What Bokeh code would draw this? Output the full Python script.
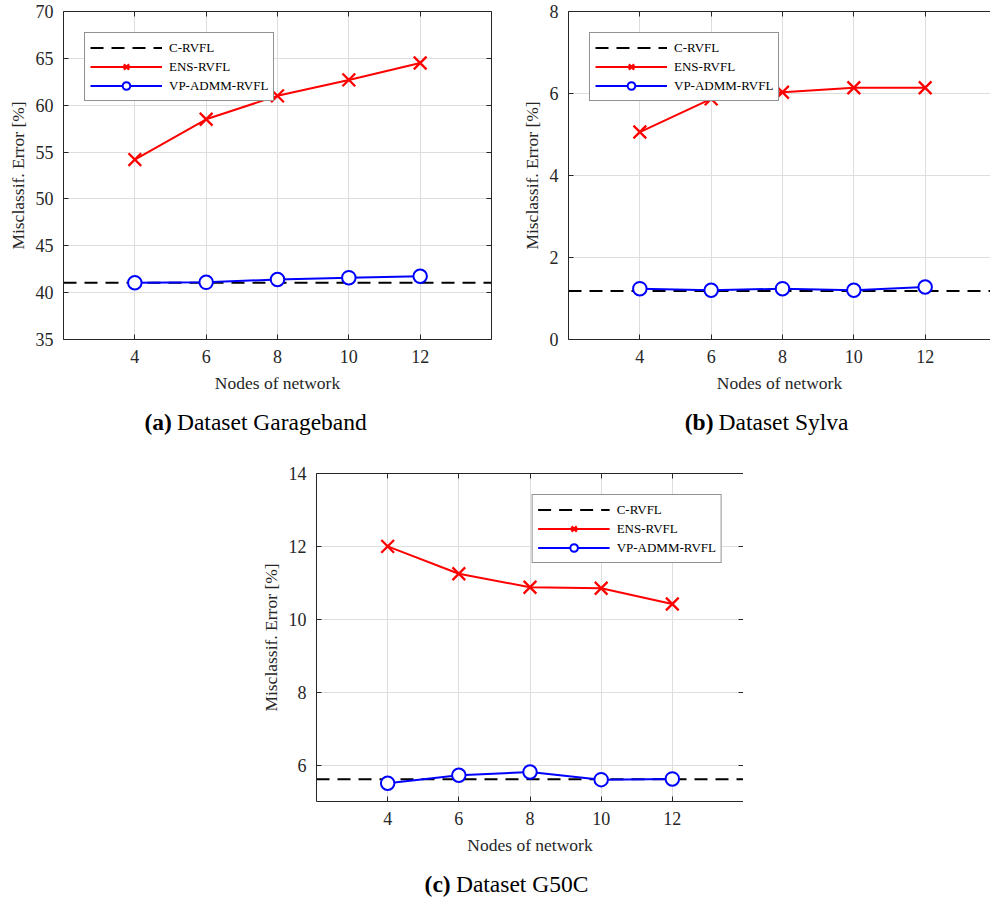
from bokeh.plotting import figure
from bokeh.models import Range1d, FixedTicker, LinearAxis, Legend, LegendItem, Label, Spacer
from bokeh.layouts import column, row
from bokeh.embed import file_html
from bokeh.resources import INLINE

# ---------------- data ----------------
nodes = [4, 6, 8, 10, 12]
x_ticks = [4, 6, 8, 10, 12]

# (a) Garageband
ens_a = [54.2, 58.5, 61.0, 62.7, 64.5]
vp_a = [41.05, 41.1, 41.4, 41.6, 41.75]
c_a = 41.05
yticks_a = [35, 40, 45, 50, 55, 60, 65, 70]

# (b) Sylva
ens_b = [5.06, 5.87, 6.03, 6.14, 6.14]
vp_b = [1.24, 1.20, 1.24, 1.20, 1.28]
c_b = 1.18
yticks_b = [0, 2, 4, 6, 8]

# (c) G50C
ens_c = [12.0, 11.25, 10.88, 10.85, 10.42]
vp_c = [5.50, 5.72, 5.81, 5.60, 5.62]
c_c = 5.61
yticks_c = [6, 8, 10, 12, 14]

series_names = ["C-RVFL", "ENS-RVFL", "VP-ADMM-RVFL"]
x_label = "Nodes of network"
y_label = "Misclassif. Error [%]"
captions = [("(a)", "Dataset Garageband"), ("(b)", "Dataset Sylva"), ("(c)", "Dataset G50C")]

FONT = "Liberation Serif"
AX = "#262626"
GRID = "#dedede"


def style_axis(ax):
    ax.axis_line_color = AX
    ax.major_tick_line_color = AX
    ax.major_tick_in = 5
    ax.major_tick_out = 0
    ax.minor_tick_line_color = None


def panel(ens, vp, c_val, xlim, ylim, yticks, width, height, bl, br, bt, bb,
          legend_loc, right_axis):
    p = figure(width=width, height=height, x_range=Range1d(*xlim), y_range=Range1d(*ylim),
               output_backend="svg", toolbar_location=None,
               min_border_left=bl, min_border_right=br, min_border_top=bt, min_border_bottom=bb)
    p.outline_line_color = None
    p.background_fill_color = "white"
    p.border_fill_color = "white"

    xa = p.xaxis[0]
    ya = p.yaxis[0]
    xa.ticker = FixedTicker(ticks=x_ticks)
    ya.ticker = FixedTicker(ticks=yticks)
    for ax in (xa, ya):
        style_axis(ax)
        ax.major_label_text_font = FONT
        ax.major_label_text_font_size = "18px"
        ax.major_label_text_color = AX
        ax.axis_label_text_font = FONT
        ax.axis_label_text_font_size = "17.5px"
        ax.axis_label_text_font_style = "normal"
        ax.axis_label_text_color = AX
        ax.major_label_standoff = 10
    xa.axis_label_standoff = 7
    ya.axis_label_standoff = 5
    xa.axis_label = x_label
    ya.axis_label = y_label

    # MATLAB-style box with inward ticks on the other sides
    top = LinearAxis(ticker=FixedTicker(ticks=x_ticks),
                     major_label_overrides={t: "" for t in x_ticks})
    extra = [(top, "above")]
    if right_axis:
        rt = LinearAxis(ticker=FixedTicker(ticks=yticks),
                        major_label_overrides={t: "" for t in yticks})
        extra.append((rt, "right"))
    for ax, side in extra:
        style_axis(ax)
        ax.major_label_standoff = 0
        ax.major_label_text_font_size = "1px"
        p.add_layout(ax, side)

    p.xgrid.ticker = FixedTicker(ticks=x_ticks)
    p.ygrid.ticker = FixedTicker(ticks=yticks)
    p.xgrid.grid_line_color = GRID
    p.ygrid.grid_line_color = GRID

    r_c = p.line([xlim[0], xlim[1]], [c_val, c_val], line_color="black", line_width=2,
                 line_dash="13 8")
    r_el = p.line(nodes, ens, line_color="red", line_width=2)
    r_es = p.scatter(nodes, ens, marker="x", size=18, line_color="red", line_width=2.3)
    r_vl = p.line(nodes, vp, line_color="blue", line_width=2)
    r_vs = p.scatter(nodes, vp, marker="circle", size=13.5, line_color="blue",
                     fill_color="white", line_width=2)

    legend = Legend(items=[LegendItem(label=series_names[0], renderers=[r_c]),
                           LegendItem(label=series_names[1], renderers=[r_el, r_es]),
                           LegendItem(label=series_names[2], renderers=[r_vl, r_vs])],
                    location=legend_loc, margin=21, padding=5, spacing=0,
                    glyph_height=19, glyph_width=72, label_standoff=7, label_height=16,
                    label_text_font=FONT, label_text_font_size="13px", label_text_color="black",
                    border_line_color=AX, border_line_width=1, background_fill_color="white",
                    background_fill_alpha=1)
    p.add_layout(legend)
    return p


def caption(width, height, split_x, center_from_top, cap):
    c = figure(width=width, height=height, x_range=Range1d(0, width), y_range=Range1d(0, height),
               output_backend="svg", toolbar_location=None, x_axis_location=None,
               y_axis_location=None, min_border=0, min_border_left=0, min_border_right=0,
               min_border_top=0, min_border_bottom=0)
    c.grid.visible = False
    c.outline_line_color = None
    c.background_fill_color = "white"
    c.border_fill_color = "white"
    y = height - center_from_top
    c.add_layout(Label(x=split_x, y=y, text=cap[0], text_align="right", text_baseline="middle",
                       text_font=FONT, text_font_size="23.5px", text_font_style="bold",
                       text_color="black"))
    c.add_layout(Label(x=split_x + 6, y=y, text=cap[1], text_align="left", text_baseline="middle",
                       text_font=FONT, text_font_size="23.5px", text_color="black"))
    return c


pa = panel(ens_a, vp_a, c_a, (2, 14), (35, 70), yticks_a, 498, 400, 63, 7, 11, 61,
           "top_left", True)
pb = panel(ens_b, vp_b, c_b, (2, 2 + 422 * 12 / 428), (0, 8), yticks_b, 492, 400, 70, 0, 11, 61,
           "top_left", False)
pc = panel(ens_c, vp_c, c_c, (2, 14), (5, 14), yticks_c, 490, 412, 63, 0, 23, 61,
           "top_right", True)

ca = caption(498, 50, 126, 21, captions[0])
cb = caption(492, 50, 169, 21, captions[1])
cc = caption(490, 36, 154, 21, captions[2])

layout = column(row(column(pa, ca), column(pb, cb)),
                row(Spacer(width=253, height=448), column(pc, cc)))

open("out.html", "w").write(file_html(layout, INLINE))
